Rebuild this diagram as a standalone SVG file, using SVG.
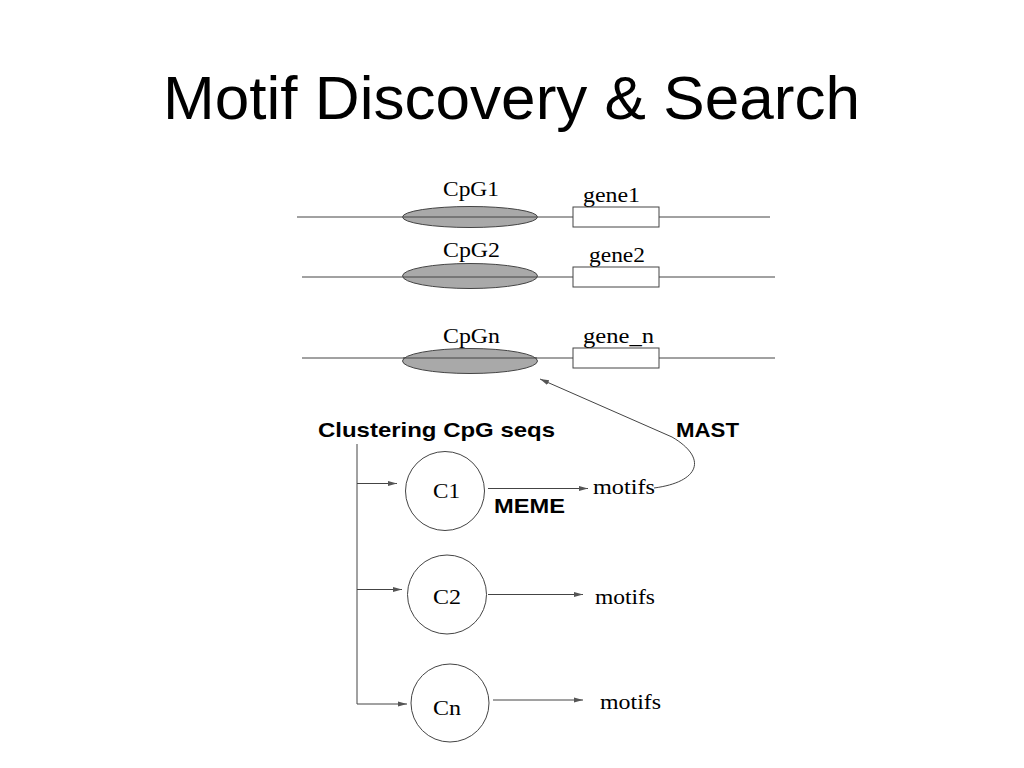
<svg xmlns="http://www.w3.org/2000/svg" width="1024" height="768" viewBox="0 0 1024 768">
<defs>
<style>
.ln{stroke:#444;stroke-width:1;fill:none}
.cpg{fill:#a9a9a9;stroke:#444;stroke-width:1}
.gene{fill:#fff;stroke:#444;stroke-width:1}
.cl{fill:#fff;stroke:#444;stroke-width:1}
.serif{font-family:"Liberation Serif","Times New Roman",serif;fill:#000;font-size:21px}
.bold{font-family:"Liberation Sans",Arial,sans-serif;font-weight:bold;fill:#000}
</style>
<marker id="ah" markerWidth="10" markerHeight="8" refX="9" refY="4" orient="auto" markerUnits="userSpaceOnUse">
<path d="M0,1.5 L9,4 L0,6.5 Z" fill="#555"/>
</marker>
</defs>
<rect width="1024" height="768" fill="#fff"/>
<text x="163" y="119" font-family="Liberation Sans, Arial, sans-serif" font-size="62" fill="#000" textLength="697" lengthAdjust="spacingAndGlyphs">Motif Discovery &amp; Search</text>

<g id="seq1">
<line class="ln" x1="297" y1="217" x2="770" y2="217"/>
<ellipse class="cpg" cx="470" cy="217" rx="67.5" ry="10.5"/>
<line class="ln" x1="403" y1="217" x2="537" y2="217"/>
<rect class="gene" x="573" y="207" width="86" height="20"/>
<text class="serif" x="443" y="196" textLength="56" lengthAdjust="spacingAndGlyphs">CpG1</text>
<text class="serif" x="583" y="202" textLength="57" lengthAdjust="spacingAndGlyphs">gene1</text>
</g>
<g id="seq2">
<line class="ln" x1="302" y1="277" x2="775" y2="277"/>
<ellipse class="cpg" cx="470" cy="276" rx="67.5" ry="12.5"/>
<line class="ln" x1="403" y1="277" x2="537" y2="277"/>
<rect class="gene" x="573" y="267" width="86" height="20"/>
<text class="serif" x="443" y="257" textLength="57" lengthAdjust="spacingAndGlyphs">CpG2</text>
<text class="serif" x="589" y="262" textLength="56" lengthAdjust="spacingAndGlyphs">gene2</text>
</g>
<g id="seqn">
<line class="ln" x1="302" y1="358" x2="775" y2="358"/>
<ellipse class="cpg" cx="470" cy="361" rx="67.5" ry="12.5"/>
<line class="ln" x1="403" y1="358" x2="537" y2="358"/>
<rect class="gene" x="573" y="348" width="86" height="20"/>
<text class="serif" x="443" y="343" textLength="57" lengthAdjust="spacingAndGlyphs">CpGn</text>
<text class="serif" x="583" y="343" textLength="71" lengthAdjust="spacingAndGlyphs">gene_n</text>
</g>

<g id="clustering">
<text class="bold" x="318" y="437" font-size="21" textLength="237" lengthAdjust="spacingAndGlyphs">Clustering CpG seqs</text>
</g>
<g id="c1">
<circle class="cl" cx="445" cy="491" r="39.5"/>
<text class="serif" x="433" y="498" textLength="27" lengthAdjust="spacingAndGlyphs">C1</text>
</g>
<g id="c2">
<circle class="cl" cx="447" cy="594.5" r="39.5"/>
<text class="serif" x="433" y="604" textLength="28" lengthAdjust="spacingAndGlyphs">C2</text>
</g>
<g id="cn">
<circle class="cl" cx="450" cy="703" r="39"/>
<text class="serif" x="433" y="715" textLength="28" lengthAdjust="spacingAndGlyphs">Cn</text>
</g>
<g id="motifs1"><text class="serif" x="593" y="494" textLength="62" lengthAdjust="spacingAndGlyphs">motifs</text></g>
<g id="motifs2"><text class="serif" x="595" y="604" textLength="60" lengthAdjust="spacingAndGlyphs">motifs</text></g>
<g id="motifsn"><text class="serif" x="600" y="709" textLength="61" lengthAdjust="spacingAndGlyphs">motifs</text></g>

<g id="connectors">
<path class="ln" d="M357,444 V704"/>
<path class="ln" d="M357,483.5 H397" marker-end="url(#ah)"/>
<path class="ln" d="M357,589.5 H402" marker-end="url(#ah)"/>
<path class="ln" d="M357,704 H407" marker-end="url(#ah)"/>
<path class="ln" d="M488,488.5 H588" marker-end="url(#ah)"/>
<path class="ln" d="M488,594.5 H583" marker-end="url(#ah)"/>
<path class="ln" d="M493,700 H583" marker-end="url(#ah)"/>
<path class="ln" d="M654,488 C700,482 708,458 672,437 L540,379" marker-end="url(#ah)"/>
<text class="bold" x="494" y="513" font-size="21" textLength="71" lengthAdjust="spacingAndGlyphs">MEME</text>
<text class="bold" x="676" y="437" font-size="21" textLength="63" lengthAdjust="spacingAndGlyphs">MAST</text>
</g>
</svg>
